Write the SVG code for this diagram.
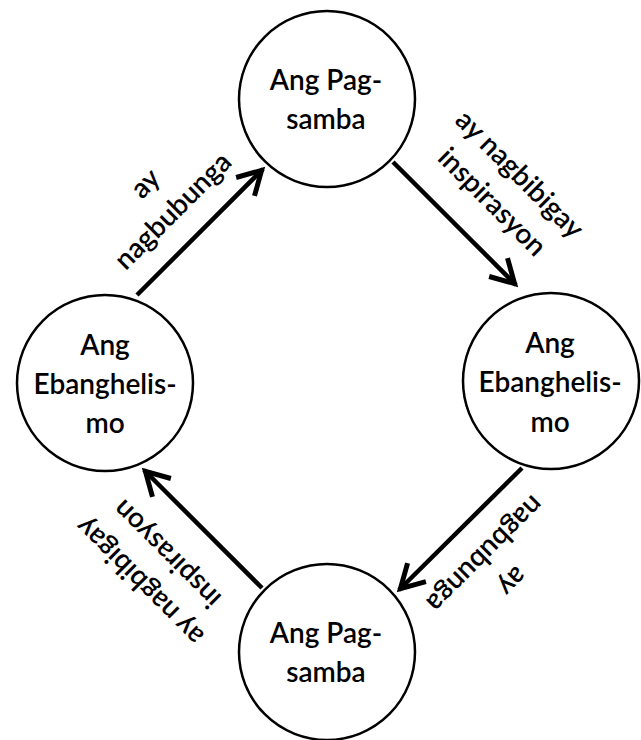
<svg xmlns="http://www.w3.org/2000/svg" width="641" height="740" viewBox="0 0 641 740">
<style>
.node circle{fill:#fff;stroke:#000;stroke-width:2.5}
.node text,.lbl{font-family:Lato,"Open Sans","Liberation Sans",sans-serif;font-size:28px;font-weight:600;fill:#000;text-anchor:middle}
.edge line{stroke:#000;stroke-width:4.5}
</style>
<defs>
<marker id="ah" markerUnits="userSpaceOnUse" markerWidth="40" markerHeight="40" refX="2" refY="0" viewBox="-30 -20 40 40" orient="auto" overflow="visible">
<path d="M-23,-13 L0,0 L-23,13" fill="none" stroke="#000" stroke-width="5" stroke-linecap="butt" stroke-linejoin="miter"/>
</marker>
</defs>
<g id="connectors" class="edge">
<line x1="137" y1="295" x2="263" y2="169" marker-end="url(#ah)"/>
<line x1="393" y1="162" x2="516" y2="285" marker-end="url(#ah)"/>
<line x1="522" y1="468" x2="399" y2="590" marker-end="url(#ah)"/>
<line x1="262" y1="588" x2="144" y2="470" marker-end="url(#ah)"/>
<text class="lbl" transform="translate(159,197) rotate(-45)"><tspan x="0" y="-10">ay</tspan><tspan x="0" y="29">nagbubunga</tspan></text>
<text class="lbl" transform="translate(506,188) rotate(45)"><tspan x="0" y="-10">ay nagbibigay</tspan><tspan x="0" y="29">inspirasyon</tspan></text>
<text class="lbl" transform="translate(499,568) rotate(135)"><tspan x="0" y="-10">ay</tspan><tspan x="0" y="29">nagbubunga</tspan></text>
<text class="lbl" transform="translate(153,568) rotate(225)"><tspan x="0" y="-10">ay nagbibigay</tspan><tspan x="0" y="29">inspirasyon</tspan></text>
</g>
<g id="n1" class="node"><circle cx="327" cy="99" r="88"/><text x="326" y="90">Ang Pag-</text><text x="326" y="129">samba</text></g>
<g id="n2" class="node"><circle cx="551" cy="381" r="88"/><text x="550" y="353">Ang</text><text x="550" y="392">Ebanghelis-</text><text x="550" y="432">mo</text></g>
<g id="n3" class="node"><circle cx="327" cy="652" r="88"/><text x="326" y="643">Ang Pag-</text><text x="326" y="682">samba</text></g>
<g id="n4" class="node"><circle cx="105" cy="383" r="88"/><text x="105" y="355">Ang</text><text x="105" y="394">Ebanghelis-</text><text x="105" y="433">mo</text></g>
</svg>
